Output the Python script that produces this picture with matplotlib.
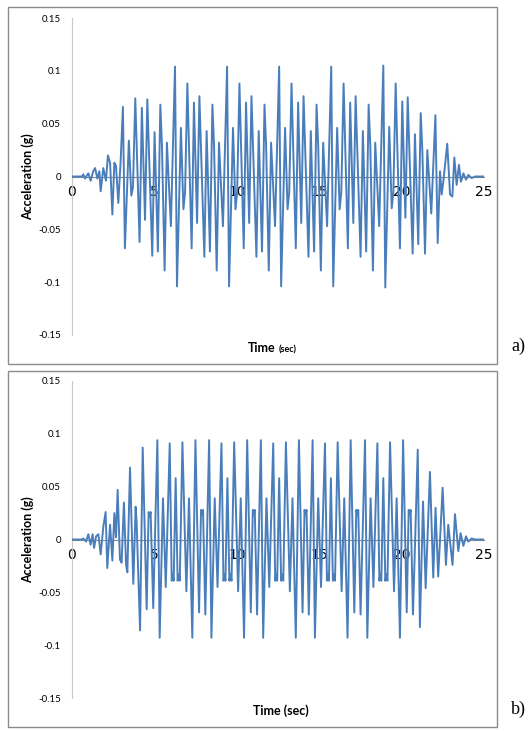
import matplotlib
matplotlib.use("Agg")
import matplotlib.pyplot as plt
from matplotlib.patches import Rectangle

# --- record a) : turning points ---
t_a = [0, 0.6, 0.69, 0.79, 0.99, 1.13, 1.29, 1.40, 1.54, 1.66, 1.74, 1.90, 2.06, 2.18, 2.31, 2.45, 2.57, 2.67, 2.81, 2.95,
       3.09, 3.21, 3.45, 3.60, 3.70, 3.84, 4.10, 4.24, 4.43, 4.57, 4.87, 5.01, 5.21, 5.36, 5.46, 5.62, 5.76, 6.00,
       6.25, 6.37, 6.61, 6.76, 6.86, 7.00, 7.26, 7.40, 7.59, 7.73, 8.03, 8.17, 8.37, 8.52, 8.62, 8.78, 8.92, 9.16,
       9.41, 9.53, 9.77, 9.92, 10.02, 10.16, 10.42, 10.56, 10.75, 10.89, 11.19, 11.33, 11.53, 11.68, 11.78, 11.94, 12.08, 12.32,
       12.57, 12.69, 12.93, 13.08, 13.18, 13.32, 13.58, 13.72, 13.91, 14.05, 14.35, 14.49, 14.69, 14.84, 14.94, 15.10, 15.24, 15.48,
       15.73, 15.85, 16.09, 16.24, 16.34, 16.48, 16.74, 16.88, 17.07, 17.21, 17.51, 17.65, 17.85, 18.00, 18.10, 18.26, 18.40, 18.64,
       18.89, 19.01, 19.25, 19.40, 19.50, 19.64, 19.90, 20.04, 20.23, 20.37, 20.67, 20.81, 21.01, 21.16, 21.26, 21.42, 21.56, 21.80,
       22.05, 22.19, 22.33, 22.43, 22.53, 22.77, 22.94, 23.08, 23.20, 23.34, 23.48, 23.60, 23.75, 23.91, 24.05, 24.25, 24.45, 25.0]
acc_a = [0, 0, 0.002, -0.002, 0.003, -0.004, 0.005, 0.008, -0.002, 0.005, -0.014, 0.008, -0.004, 0.020, 0.013, -0.036, 0.013, 0.010, -0.025, 0.014,
         0.066, -0.068, 0.034, -0.018, -0.010, 0.074, -0.062, 0.065, -0.041, 0.073, -0.075, 0.042, -0.071, 0.068, 0.029, -0.089, 0.032, -0.047,
         0.104, -0.104, 0.046, -0.031, -0.015, 0.088, -0.068, 0.070, -0.044, 0.076, -0.076, 0.043, -0.071, 0.068, 0.029, -0.089, 0.032, -0.047,
         0.104, -0.104, 0.046, -0.031, -0.015, 0.088, -0.068, 0.070, -0.044, 0.076, -0.076, 0.043, -0.071, 0.068, 0.029, -0.089, 0.032, -0.047,
         0.104, -0.104, 0.046, -0.031, -0.015, 0.088, -0.068, 0.070, -0.044, 0.076, -0.076, 0.043, -0.071, 0.068, 0.029, -0.089, 0.032, -0.047,
         0.104, -0.104, 0.046, -0.031, -0.015, 0.088, -0.068, 0.070, -0.044, 0.076, -0.076, 0.043, -0.071, 0.068, 0.029, -0.089, 0.032, -0.047,
         0.105, -0.105, 0.047, -0.030, -0.015, 0.088, -0.068, 0.071, -0.039, 0.075, -0.073, 0.040, -0.064, 0.060, 0.024, -0.073, 0.025, -0.035,
         0.058, -0.063, 0.005, -0.017, -0.005, 0.031, -0.017, -0.019, 0.018, -0.008, 0.011, -0.005, 0.003, -0.003, 0.0015, -0.0015, 0, 0]

# --- record b) ---
t_b = [0, 0.59, 0.69, 0.85, 0.99, 1.13, 1.25, 1.34, 1.46, 1.60, 1.74, 1.90, 2.04, 2.14, 2.31, 2.45, 2.57, 2.67, 2.77, 2.91, 3.01,
       3.15, 3.28, 3.36, 3.52, 3.72, 3.86, 3.92, 4.13, 4.29, 4.53, 4.65, 4.71, 4.77, 4.93,
       5.18, 5.32, 5.52, 5.69, 5.93, 6.05, 6.11, 6.17, 6.29, 6.41, 6.48, 6.54, 6.70, 6.94, 7.10, 7.30, 7.49, 7.71, 7.83, 7.89, 7.95, 8.09,
       8.32, 8.46, 8.66, 8.83, 9.07, 9.19, 9.25, 9.31, 9.43, 9.55, 9.62, 9.68, 9.84, 10.08, 10.24, 10.44, 10.63, 10.85, 10.97, 11.03, 11.09, 11.23,
       11.46, 11.60, 11.80, 11.97, 12.21, 12.33, 12.39, 12.45, 12.57, 12.69, 12.76, 12.82, 12.98, 13.22, 13.38, 13.58, 13.77, 13.99, 14.11, 14.17, 14.23, 14.37,
       14.60, 14.74, 14.94, 15.11, 15.35, 15.47, 15.53, 15.59, 15.71, 15.83, 15.90, 15.96, 16.12, 16.36, 16.52, 16.72, 16.91, 17.13, 17.25, 17.31, 17.37, 17.51,
       17.78, 17.92, 18.12, 18.29, 18.53, 18.65, 18.71, 18.77, 18.89, 19.01, 19.08, 19.14, 19.30, 19.54, 19.70, 19.90, 20.09, 20.31, 20.43, 20.49, 20.55, 20.69,
       20.98, 21.11, 21.30, 21.46, 21.72, 21.92, 22.06, 22.22, 22.49, 22.69, 22.83, 23.09, 23.24, 23.44, 23.58, 23.75, 23.91, 24.05, 24.25, 24.45, 25.0]
acc_b = [0, 0, 0.001, -0.002, 0.005, -0.005, 0.005, -0.008, 0.003, 0.005, -0.014, 0.012, 0.026, -0.027, 0.014, -0.020, 0.025, 0.002, 0.047, -0.019, -0.022,
         0.035, -0.024, -0.031, 0.068, -0.042, 0.031, 0.017, -0.086, 0.087, -0.066, 0.026, 0.022, 0.026, -0.065,
         0.094, -0.093, 0.039, -0.045, 0.091, -0.039, -0.033, -0.039, 0.058, -0.039, -0.033, -0.039, 0.092, -0.049, 0.039, -0.093, 0.094, -0.069, 0.028, 0.023, 0.028, -0.071,
         0.094, -0.093, 0.039, -0.045, 0.091, -0.039, -0.033, -0.039, 0.058, -0.039, -0.033, -0.039, 0.092, -0.049, 0.039, -0.093, 0.094, -0.069, 0.028, 0.023, 0.028, -0.071,
         0.094, -0.093, 0.039, -0.045, 0.091, -0.039, -0.033, -0.039, 0.058, -0.039, -0.033, -0.039, 0.092, -0.049, 0.039, -0.093, 0.094, -0.069, 0.028, 0.023, 0.028, -0.071,
         0.094, -0.093, 0.039, -0.045, 0.091, -0.039, -0.033, -0.039, 0.058, -0.039, -0.033, -0.039, 0.092, -0.049, 0.039, -0.093, 0.094, -0.069, 0.028, 0.023, 0.028, -0.071,
         0.094, -0.093, 0.039, -0.045, 0.091, -0.039, -0.033, -0.039, 0.058, -0.039, -0.033, -0.039, 0.092, -0.049, 0.039, -0.093, 0.094, -0.069, 0.028, 0.023, 0.028, -0.071,
         0.085, -0.083, 0.036, -0.046, 0.064, -0.036, 0.030, -0.035, 0.049, -0.024, 0.014, -0.024, 0.024, -0.011, 0.006, -0.006, 0.003, -0.002, 0.001, 0, 0]

y_ticks = [-0.15, -0.1, -0.05, 0, 0.05, 0.1, 0.15]
y_tick_labels = ["-0.15", "-0.1", "-0.05", "0", "0.05", "0.1", "0.15"]
x_ticks = [0, 5, 10, 15, 20, 25]

W, H = 531, 731
LINE = "#4a7ebb"
FONT = "Lato"

fig = plt.figure(figsize=(W / 100, H / 100), dpi=100)


def px_box(x0, y0, x1, y1):
    # pixel box (top-left origin) -> figure fraction rect
    return [x0 / W, 1 - y1 / H, (x1 - x0) / W, (y1 - y0) / H]


def panel(t, acc, top_px, box, tag):
    ax = fig.add_axes(px_box(72, top_px, 484, top_px + 317))
    ax.plot(t, acc, color=LINE, lw=1.4, zorder=3)
    ax.set_xlim(0, 25)
    ax.set_ylim(-0.15, 0.15)
    ax.set_yticks(y_ticks)
    ax.set_yticklabels(y_tick_labels, fontsize=7, family=FONT)
    ax.set_xticks(x_ticks)
    ax.set_xticklabels([str(v) for v in x_ticks], fontsize=7, family=FONT)
    ax.tick_params(axis="y", length=0, pad=8)
    ax.tick_params(axis="x", length=0, pad=6)
    for s in ["top", "right"]:
        ax.spines[s].set_visible(False)
    ax.spines["left"].set_color("#c8c8c8")
    ax.spines["left"].set_linewidth(0.8)
    ax.spines["bottom"].set_position(("data", 0))
    ax.spines["bottom"].set_color("#8a8a8a")
    ax.spines["bottom"].set_linewidth(0.8)
    ax.patch.set_alpha(0)

    fig.add_artist(Rectangle((box[0], box[1]), box[2], box[3], transform=fig.transFigure,
                             fill=False, ec="#8c8c8c", lw=1))
    fig.text(28 / W, 1 - (top_px + 159) / H, "Acceleration (g)", rotation=90, ha="center",
             va="center", fontsize=9, fontweight="bold", family=FONT)
    fig.text(518 / W, box[1] + 0.012, tag, ha="center", va="bottom", fontsize=13,
             family="Liberation Serif")
    return ax


panel(t_a, acc_a, 18, px_box(8, 7, 497, 364), "a)")
panel(t_b, acc_b, 381, px_box(8, 371, 497, 727), "b)")

# x labels (top one has the small "(sec)")
fig.text(276 / W, 1 - 352 / H, "Time", ha="right", va="baseline", fontsize=9,
         fontweight="bold", family=FONT)
fig.text(279 / W, 1 - 352 / H, "(sec)", ha="left", va="baseline", fontsize=6.5,
         fontweight="bold", family=FONT)
fig.text(281 / W, 1 - 711 / H, "Time (sec)", ha="center", va="center", fontsize=9,
         fontweight="bold", family=FONT)

fig.savefig("out.png", dpi=100)
